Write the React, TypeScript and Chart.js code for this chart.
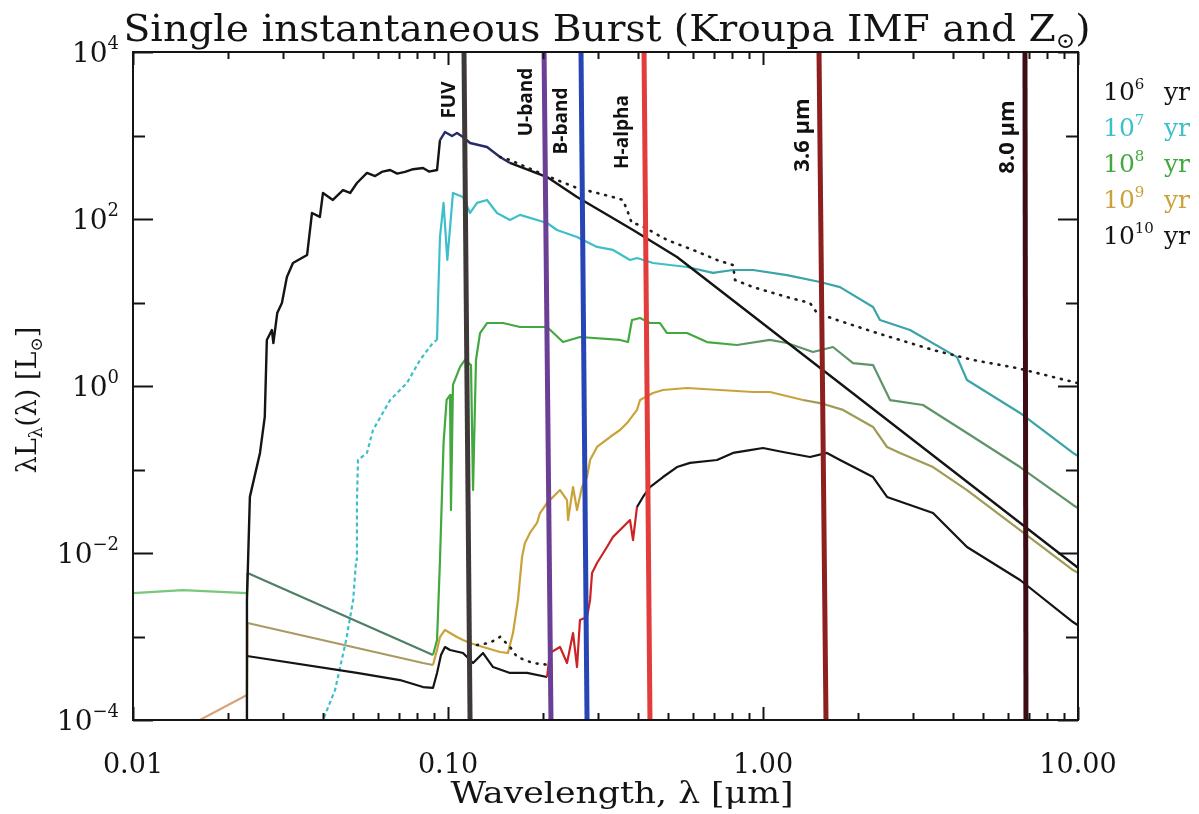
import React, { useEffect, useRef } from "react";
import { Chart, registerables } from "chart.js";

Chart.register(...registerables);

// Spectral energy distributions of a single instantaneous burst.
// Wavelengths in µm, λLλ in solar luminosities.
const age6Wave = [0.0230, 0.0230, 0.0235, 0.0253, 0.0262, 0.0266, 0.0276, 0.0279, 0.0287, 0.0297, 0.0308, 0.0322, 0.0357, 0.0370, 0.0392, 0.0401, 0.0431, 0.0464, 0.0489, 0.0514, 0.0553, 0.0587, 0.0620, 0.0655, 0.0690, 0.0730, 0.0775, 0.0833, 0.0870, 0.0923, 0.0943, 0.0978, 0.1030, 0.1068, 0.1116, 0.1175, 0.1330, 0.1463, 0.1573, 0.2063, 0.2568, 0.3867, 0.5333, 10.0];
const age6Lum = [5e-5, 2.7e-3, 0.047, 0.158, 0.426, 3.56, 4.69, 3.27, 7.48, 9.86, 20.2, 29.7, 37.1, 118, 106, 205, 169, 222, 205, 270, 356, 327, 370, 386, 350, 366, 395, 408, 370, 386, 883, 1100, 986, 1072, 959, 813, 728, 553, 469, 318, 183, 73.8, 35.1, 6.65e-3];

const age7Wave = [0.0390, 0.0401, 0.0438, 0.0475, 0.0500, 0.0511, 0.0514, 0.0518, 0.0553, 0.0578, 0.0655, 0.0741, 0.0815, 0.0896, 0.0923, 0.0930, 0.0943, 0.0968, 0.0995, 0.1037, 0.1116, 0.1175, 0.1236, 0.1330, 0.1431, 0.1573, 0.1693, 0.2063, 0.2218, 0.2568, 0.2972, 0.3341, 0.3783, 0.3981, 0.4475, 0.5737, 0.6938, 0.8032, 0.9297, 1.192, 1.517, 1.756, 2.235, 2.351, 2.929, 4.129, 4.442, 6.545, 9.64, 10.0];
const age7Lum = [5e-5, 1e-4, 2.29e-4, 9.08e-4, 2.74e-3, 8.24e-3, 0.0431, 0.130, 0.158, 0.297, 0.679, 1.09, 2.05, 3.30, 3.56, 10.7, 60.8, 156, 32.3, 205, 183, 118, 156, 169, 118, 97.3, 112, 89.5, 73.8, 60.8, 46.3, 42.6, 32.3, 34.1, 29.7, 26.6, 22.6, 24.5, 24.5, 21.3, 17.6, 15.3, 8.83, 6.17, 4.69, 2.22, 1.18, 0.475, 0.158, 0.145];

const age8Wave = [0.0100, 0.0144, 0.0230, 0.0231, 0.0896, 0.0923, 0.0943, 0.0968, 0.0990, 0.1015, 0.1022, 0.1037, 0.1092, 0.1132, 0.1183, 0.1201, 0.1227, 0.1264, 0.1330, 0.1495, 0.1693, 0.2063, 0.2318, 0.2624, 0.3516, 0.3727, 0.3838, 0.4071, 0.4377, 0.4710, 0.4957, 0.5737, 0.6640, 0.8270, 1.052, 1.192, 1.441, 1.668, 1.931, 2.235, 2.531, 3.220, 4.442, 6.545, 9.64, 10.0];
const age8Lum = [3.3e-3, 3.6e-3, 3.3e-3, 5.75e-3, 6.0e-4, 9.1e-4, 8.2e-3, 0.207, 0.68, 0.78, 0.0327, 1.03, 1.69, 2.05, 1.78, 0.0567, 2.05, 4.31, 5.68, 5.68, 5.09, 5.09, 3.36, 3.86, 3.56, 3.36, 6.17, 6.52, 5.68, 5.68, 4.31, 4.31, 3.36, 3.10, 3.56, 3.27, 2.55, 2.93, 1.88, 1.78, 0.679, 0.592, 0.274, 0.107, 0.0376, 0.0345];

const age9Wave = [0.0141, 0.0230, 0.0231, 0.0833, 0.0896, 0.0923, 0.0943, 0.0978, 0.1015, 0.1068, 0.1116, 0.1175, 0.1292, 0.1463, 0.1550, 0.1608, 0.1668, 0.1718, 0.1755, 0.1820, 0.1917, 0.1959, 0.2063, 0.2154, 0.2268, 0.2387, 0.2405, 0.2494, 0.2568, 0.2663, 0.2763, 0.2825, 0.2972, 0.3268, 0.3516, 0.3702, 0.3981, 0.4071, 0.4475, 0.4815, 0.5737, 0.7300, 0.9297, 1.052, 1.340, 1.517, 1.795, 2.235, 2.476, 2.722, 3.465, 4.442, 6.545, 9.64, 10.0];
const age9Lum = [7.5e-5, 1.99e-4, 1.45e-3, 4.82e-4, 4.56e-4, 6.89e-4, 9.86e-4, 1.2e-3, 1.1e-3, 9.86e-4, 9.08e-4, 8.36e-4, 7.48e-4, 6.52e-4, 6.34e-4, 1.1e-3, 2.74e-3, 8.95e-3, 0.0132, 0.0174, 0.0229, 0.0301, 0.0397, 0.0469, 0.0568, 0.0431, 0.0248, 0.0617, 0.0327, 0.0617, 0.0813, 0.130, 0.186, 0.245, 0.297, 0.360, 0.517, 0.679, 0.824, 0.896, 0.946, 0.896, 0.848, 0.848, 0.679, 0.625, 0.517, 0.323, 0.186, 0.158, 0.107, 0.0567, 0.0188, 6.25e-3, 5.8e-3];

const age10Wave = [0.0230, 0.0514, 0.0704, 0.0833, 0.0896, 0.0923, 0.0950, 0.0978, 0.1015, 0.1116, 0.1201, 0.1292, 0.1390, 0.1573, 0.1782, 0.2063, 0.2105, 0.2268, 0.2387, 0.2494, 0.2568, 0.2624, 0.2763, 0.2825, 0.2866, 0.2972, 0.3197, 0.3341, 0.3594, 0.3783, 0.3867, 0.3981, 0.4159, 0.4377, 0.4815, 0.5333, 0.5866, 0.7145, 0.8032, 0.9094, 1.000, 1.157, 1.410, 1.596, 1.756, 2.235, 2.476, 3.465, 4.442, 6.545, 9.64, 10.0];
const age10Lum = [5.84e-4, 3.66e-4, 3.01e-4, 2.48e-4, 2.42e-4, 3.66e-4, 6.0e-4, 7.48e-4, 6.89e-4, 6.34e-4, 4.82e-4, 6.34e-4, 4.31e-4, 3.66e-4, 3.66e-4, 3.27e-4, 6.34e-4, 7.48e-4, 4.82e-4, 1.1e-3, 4.31e-4, 1.58e-3, 1.71e-3, 2.74e-3, 5.75e-3, 7.59e-3, 0.0118, 0.0156, 0.0205, 0.0248, 0.0143, 0.0356, 0.0469, 0.0617, 0.0813, 0.107, 0.120, 0.130, 0.158, 0.171, 0.181, 0.162, 0.141, 0.158, 0.130, 0.0813, 0.0469, 0.0301, 0.0118, 4.75e-3, 1.49e-3, 1.36e-3];

// Dotted comparison spectrum (two separate pieces)
const dottedUvWave = [0.1236, 0.1359, 0.1463, 0.1573, 0.1656, 0.1862, 0.2063];
const dottedUvLum = [7.9e-4, 8.4e-4, 9.9e-4, 7.5e-4, 5.7e-4, 4.8e-4, 4.6e-4];
const dottedWave = [0.1463, 0.1573, 0.1862, 0.2218, 0.2568, 0.2972, 0.3341, 0.3594, 0.3727, 0.3830, 0.4071, 0.4957, 0.5995, 0.7145, 0.8032, 0.8150, 0.9297, 1.192, 1.410, 1.484, 1.718, 2.301, 3.465, 4.642, 6.403, 9.64, 10.0];
const dottedLum = [553, 509, 386, 293, 235, 205, 183, 169, 120, 89.5, 84.8, 56.1, 42.6, 32.3, 28.1, 18.6, 15.3, 11.6, 9.86, 7.48, 6.17, 4.31, 2.70, 2.05, 1.64, 1.12, 1.08];

// Photometric band markers: wavelength where each marker meets the top and bottom axes
const bandNames = ["FUV", "U-band", "B-band", "H-alpha", "3.6 µm", "8.0 µm"];
const bandTopWave = [0.1124, 0.2018, 0.2644, 0.4191, 1.506, 6.787];
const bandBottomWave = [0.1175, 0.2123, 0.2763, 0.4377, 1.585, 6.837];

// Axis ticks and legend
const xTickValues = [0.01, 0.1, 1, 10];
const xTickLabels = ["0.01", "0.10", "1.00", "10.00"];
const yTickExponents = [4, 2, 0, -2, -4];
const ageExponents = [6, 7, 8, 9, 10];

// ---- styling ----
const SERIF = "'DejaVu Serif', 'Liberation Serif', serif";
const SANS = "'Open Sans', 'Noto Sans', sans-serif";
const INK = "#141414";
const ageColors = ["#141414", "#3dbfca", "#43a83f", "#c9a33a", "#141414"];
const bandColors = ["#3f3838", "#6c3f96", "#2745b4", "#e23c3c", "#8e1f1f", "#3e0c15"];
const bandLabelShift = [-14, -17, -19, -21, -16, -17];
const bandLabelCenterY = [100, 102, 121, 132, 135, 137];
const bandLabelSize = [19, 19, 19, 19, 22, 22];

type Tint = [number, number, string];
const age6Tints: Tint[] = [[0.094, 0.16, "#272b66"]];
const age7Tints: Tint[] = [[0.5, 10.1, "#3aa4a7"]];
const age8Tints: Tint[] = [[0.0099, 0.02305, "#79c879"], [0.02305, 0.0905, "#4f7f66"], [0.7, 10.1, "#5f9468"]];
const age9Tints: Tint[] = [[0.013, 0.02305, "#d9a27a"], [0.02305, 0.0905, "#a89a62"], [1.3, 10.1, "#9f9a56"]];
const age10Tints: Tint[] = [[0.2, 0.41, "#cc2424"]];

function points(wave: number[], lum: number[]) {
  return wave.map((w, i) => ({ x: w, y: lum[i] }));
}

function tinted(base: string, tints: Tint[]) {
  return (ctx: any) => {
    const a = ctx.p0.parsed.x;
    const b = ctx.p1.parsed.x;
    for (const [lo, hi, c] of tints) if (a >= lo && b <= hi) return c;
    return base;
  };
}

type Run = { text: string; size: number; dy?: number; x?: number; color?: string; weight?: string };

function fontOf(r: Run) {
  return `${r.weight ?? "normal"} ${r.size}px ${SERIF}`;
}

// Draws a line of mixed-size text; optionally squeezed/stretched to a target width
function drawRuns(ctx: CanvasRenderingContext2D, runs: Run[], x: number, y: number, align: "left" | "center" | "right", target?: number) {
  let natural = 0;
  for (const r of runs) {
    ctx.font = fontOf(r);
    natural = (r.x !== undefined ? r.x : natural) + ctx.measureText(r.text).width;
  }
  const sx = target ? target / natural : 1;
  const w = natural * sx;
  const start = align === "left" ? x : align === "center" ? x - w / 2 : x - w;
  ctx.save();
  ctx.translate(start, y);
  ctx.scale(sx, 1);
  ctx.textAlign = "left";
  ctx.textBaseline = "alphabetic";
  let cx = 0;
  for (const r of runs) {
    ctx.font = fontOf(r);
    if (r.x !== undefined) cx = r.x;
    ctx.fillStyle = r.color ?? INK;
    ctx.fillText(r.text, cx, r.dy ?? 0);
    cx += ctx.measureText(r.text).width;
  }
  ctx.restore();
}

function supText(n: number) {
  return n < 0 ? "\u2212" + Math.abs(n) : String(n);
}

const framePlugin = {
  id: "sedFrame",
  beforeDraw(chart: any) {
    const ctx = chart.ctx;
    ctx.save();
    ctx.fillStyle = "#ffffff";
    ctx.fillRect(0, 0, chart.width, chart.height);
    ctx.restore();
  },
  afterDraw(chart: any) {
    const ctx: CanvasRenderingContext2D = chart.ctx;
    const a = chart.chartArea;
    const xs = chart.scales.x;
    const ys = chart.scales.y;
    ctx.save();

    // band marker labels, rotated along the markers
    bandNames.forEach((name, i) => {
      const px = xs.getPixelForValue(bandTopWave[i]) + bandLabelShift[i];
      ctx.save();
      ctx.translate(px, bandLabelCenterY[i]);
      ctx.rotate(-Math.PI / 2);
      ctx.font = `bold ${bandLabelSize[i]}px ${SANS}`;
      ctx.fillStyle = "#111";
      ctx.textAlign = "center";
      ctx.textBaseline = "middle";
      ctx.fillText(name, 0, 0);
      ctx.restore();
    });

    // plot frame with inward ticks on all four sides
    ctx.strokeStyle = INK;
    ctx.lineWidth = 2;
    ctx.strokeRect(a.left, a.top, a.right - a.left, a.bottom - a.top);
    ctx.beginPath();
    for (let d = -2; d <= 1; d++) {
      for (let m = 1; m <= 9; m++) {
        const v = m * Math.pow(10, d);
        if (v > 10.0001) break;
        const px = Math.round(xs.getPixelForValue(v)) + 0.5;
        const len = m === 1 ? 13 : 7;
        ctx.moveTo(px, a.bottom);
        ctx.lineTo(px, a.bottom - len);
        ctx.moveTo(px, a.top);
        ctx.lineTo(px, a.top + len);
      }
    }
    for (let e = -4; e <= 4; e++) {
      const py = Math.round(ys.getPixelForValue(Math.pow(10, e))) + 0.5;
      const len = e % 2 === 0 ? 20 : 12;
      ctx.moveTo(a.left, py);
      ctx.lineTo(a.left + len, py);
      ctx.moveTo(a.right, py);
      ctx.lineTo(a.right - len, py);
    }
    ctx.stroke();

    // x tick labels
    xTickValues.forEach((v, i) => {
      drawRuns(ctx, [{ text: xTickLabels[i], size: 27 }], xs.getPixelForValue(v), a.bottom + 53, "center");
    });
    // y tick labels as powers of ten
    yTickExponents.forEach((e) => {
      const py = ys.getPixelForValue(Math.pow(10, e));
      drawRuns(ctx, [{ text: "10", size: 28 }, { text: supText(e), size: 18, dy: -13 }], a.left - 14, py + 10, "right");
    });

    // axis titles
    drawRuns(ctx, [{ text: "Wavelength, λ [μm]", size: 29 }], 622, 803, "center", 343);
    ctx.save();
    ctx.translate(36, 400);
    ctx.rotate(-Math.PI / 2);
    drawRuns(ctx, [
      { text: "λL", size: 27 },
      { text: "λ", size: 18, dy: 6 },
      { text: "(λ) [L", size: 27 },
      { text: "⊙", size: 17, dy: 6 },
      { text: "]", size: 27 },
    ], 0, 0, "center");
    ctx.restore();

    // chart title
    drawRuns(ctx, [
      { text: "Single instantaneous Burst (Kroupa IMF and Z", size: 37 },
      { text: "⊙", size: 22, dy: 7 },
      { text: ")", size: 37 },
    ], 607, 41, "center", 967);

    // age legend at the right
    ageExponents.forEach((e, i) => {
      const base = 100 + i * 36;
      drawRuns(ctx, [
        { text: "10", size: 25, color: ageColors[i] },
        { text: String(e), size: 15, dy: -11, color: ageColors[i] },
        { text: "yr", size: 25, x: 1164 - 1103, color: ageColors[i] },
      ], 1103, base, "left");
    });

    ctx.restore();
  },
};

export default function App() {
  const canvasRef = useRef<HTMLCanvasElement | null>(null);

  useEffect(() => {
    const canvas = canvasRef.current;
    if (!canvas) return;

    const spectrum = (label: string, wave: number[], lum: number[], color: string, tints: Tint[], width = 2.2) => ({
      label,
      data: points(wave, lum),
      borderColor: color,
      borderWidth: width,
      pointRadius: 0,
      tension: 0,
      fill: false,
      borderJoinStyle: "round" as const,
      order: 2,
      segment: { borderColor: tinted(color, tints) },
    });

    const bandLines = bandNames.map((name, i) => ({
      label: name,
      data: [
        { x: bandTopWave[i], y: 1e4 },
        { x: bandBottomWave[i], y: 1e-4 },
      ],
      borderColor: bandColors[i],
      borderWidth: 5,
      pointRadius: 0,
      fill: false,
      order: 0,
    }));

    const dotted = (wave: number[], lum: number[]) => ({
      label: "",
      data: points(wave, lum),
      borderColor: "#1e1e1e",
      borderWidth: 2.6,
      borderDash: [1, 7],
      borderCapStyle: "round" as const,
      pointRadius: 0,
      tension: 0,
      fill: false,
      order: 1,
    });

    const age7 = spectrum("10⁷ yr", age7Wave, age7Lum, ageColors[1], age7Tints);
    (age7.segment as any).borderDash = (ctx: any) => (ctx.p1.parsed.x <= 0.0925 ? [4, 3] : undefined);

    const chart = new Chart(canvas, {
      type: "line",
      data: {
        datasets: [
          ...bandLines,
          dotted(dottedWave, dottedLum),
          dotted(dottedUvWave, dottedUvLum),
          spectrum("10⁶ yr", age6Wave, age6Lum, ageColors[0], age6Tints, 2.4),
          spectrum("10¹⁰ yr", age10Wave, age10Lum, ageColors[4], age10Tints),
          spectrum("10⁹ yr", age9Wave, age9Lum, ageColors[3], age9Tints),
          spectrum("10⁸ yr", age8Wave, age8Lum, ageColors[2], age8Tints),
          age7,
        ] as any,
      },
      options: {
        animation: false,
        responsive: false,
        devicePixelRatio: 1,
        layout: { padding: { left: 0, right: 121, top: 52, bottom: 0 } },
        plugins: {
          legend: { display: false },
          tooltip: { enabled: false },
          title: { display: false },
        },
        events: [],
        scales: {
          x: {
            type: "logarithmic",
            min: 0.01,
            max: 10,
            grid: { display: false, drawTicks: false },
            border: { display: false },
            ticks: { display: false },
            afterFit: (s: any) => {
              s.height = 94;
            },
          },
          y: {
            type: "logarithmic",
            min: 1e-4,
            max: 1e4,
            grid: { display: false, drawTicks: false },
            border: { display: false },
            ticks: { display: false },
            afterFit: (s: any) => {
              s.width = 133;
            },
          },
        },
      } as any,
      plugins: [framePlugin],
    });

    return () => chart.destroy();
  }, []);

  return (
    <div style={{ position: "absolute", left: 0, top: 0, width: 1199, height: 814, background: "#fff" }}>
      <canvas ref={canvasRef} width={1199} height={814} style={{ display: "block" }} />
    </div>
  );
}
